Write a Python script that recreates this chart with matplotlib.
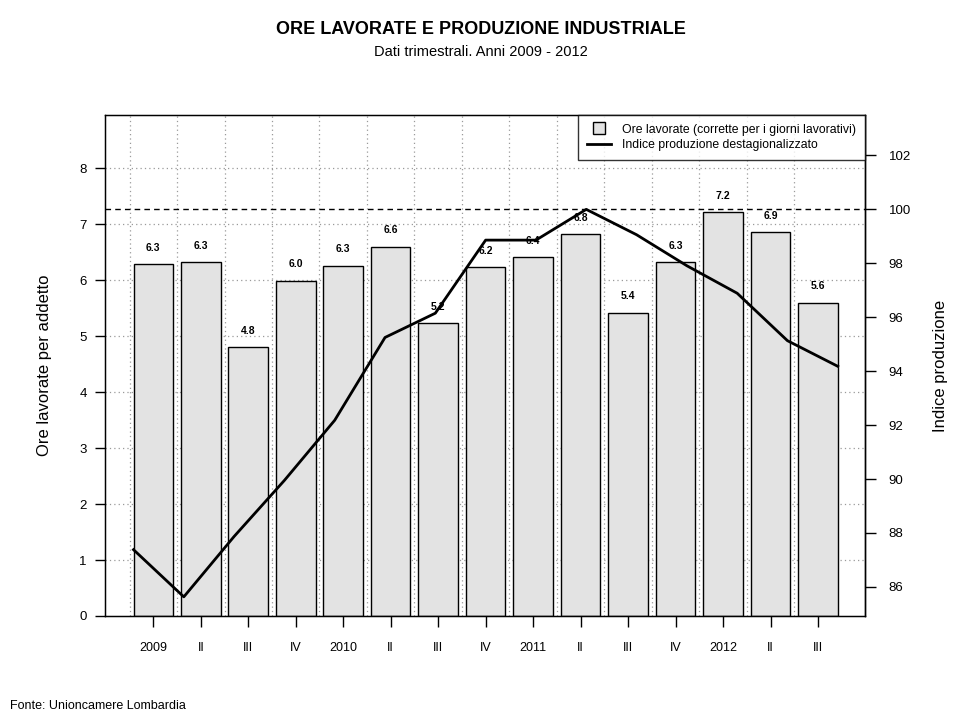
import numpy as np
import matplotlib
matplotlib.use("Agg")
import matplotlib.pyplot as plt
from matplotlib.lines import Line2D

plt.rcParams['font.family'] = ['Liberation Sans', 'DejaVu Sans']

# ---- data ----
quarters = ["2009", "II", "III", "IV", "2010", "II", "III", "IV",
            "2011", "II", "III", "IV", "2012", "II", "III"]
ore_lavorate = [6.28, 6.32, 4.80, 5.99, 6.26, 6.60, 5.23, 6.23,
                6.41, 6.82, 5.42, 6.32, 7.21, 6.86, 5.60]
indice_produzione = [87.38, 85.63, 87.87, 89.95, 92.18, 95.25, 96.15, 98.86,
                     98.86, 100.0, 99.06, 97.91, 96.89, 95.13, 94.18]
left_ticks = [0, 1, 2, 3, 4, 5, 6, 7, 8]
right_ticks = [86, 88, 90, 92, 94, 96, 98, 100, 102]
reference_level = 100

title = "ORE LAVORATE E PRODUZIONE INDUSTRIALE"
subtitle = "Dati trimestrali. Anni 2009 - 2012"
source = "Fonte: Unioncamere Lombardia"

# ---- figure ----
fig = plt.figure(figsize=(9.61, 7.21), dpi=100)
ax = fig.add_axes([105/961, 1-616/721, 760/961, 501/721])

n = len(ore_lavorate)
x = np.arange(n)
width = 1/1.2

ax.bar(x, ore_lavorate, width=width, color="#e3e3e3",
       edgecolor="black", linewidth=1.0, zorder=2)
ax.set_xlim(-1.017, 14.99)
ax.set_ylim(0, 8.95)

# grid
for gx in x - 0.5:
    ax.axvline(gx, color="#9a9a9a", linestyle=(0, (1, 2.5)), linewidth=0.9, zorder=1)
for gy in left_ticks[1:]:
    ax.axhline(gy, color="#9a9a9a", linestyle=(0, (1, 2.5)), linewidth=0.9, zorder=1)

# value labels
for xi, v in zip(x, ore_lavorate):
    ax.text(xi, v + 0.2, f"{v:.1f}", ha="center", va="bottom",
            fontsize=7.5, fontweight="bold", zorder=5)

ax.set_yticks(left_ticks)
ax.set_yticklabels([str(t) for t in left_ticks], fontsize=9.5)
ax.set_xticks(x)
ax.set_xticklabels(quarters, fontsize=9)
ax.tick_params(axis="x", length=8, width=1, pad=11)
ax.tick_params(axis="y", length=7, width=1, pad=6)
for s in ax.spines.values():
    s.set_linewidth(1.0)
ax.set_ylabel("Ore lavorate per addetto", fontsize=12, labelpad=20)

# right axis
ax2 = ax.twinx()
ax2.set_ylim(84.92, 103.5)
line_x = np.linspace(-width/2, n - 1 + width/2, n)
ax2.plot(line_x, indice_produzione, color="black", linewidth=2.0, zorder=4)
ax2.axhline(reference_level, color="black", linestyle=(0, (4, 3)), linewidth=1.0)
ax2.set_yticks(right_ticks)
ax2.set_yticklabels([str(t) for t in right_ticks], fontsize=9.5)
ax2.tick_params(axis="y", length=8, width=1, pad=9)
ax2.set_ylabel("Indice produzione", fontsize=12, labelpad=16)
ax2.spines["right"].set_linewidth(1.0)

# legend
handles = [Line2D([0], [0], marker="s", color="none", markerfacecolor="#e3e3e3",
                  markeredgecolor="black", markersize=8, linestyle="none"),
           Line2D([0], [0], color="black", linewidth=2)]
labels = ["Ore lavorate (corrette per i giorni lavorativi)",
          "Indice produzione destagionalizzato"]
leg = ax2.legend(handles, labels, loc="upper right", bbox_to_anchor=(1.0, 1.0),
                 fontsize=8.8, frameon=True, fancybox=False, borderaxespad=0,
                 handlelength=2.0, handletextpad=0.9, labelspacing=0.3,
                 borderpad=0.7)
leg.get_frame().set_edgecolor("black")
leg.get_frame().set_linewidth(1.0)

fig.text(0.5, 1-30/721, title, ha="center", va="center", fontsize=13,
         fontweight="bold")
fig.text(0.5, 1-52/721, subtitle, ha="center", va="center", fontsize=10.5)
fig.text(10/961, 1-706/721, source, ha="left", va="center", fontsize=9)

fig.savefig("out.png", dpi=100)
